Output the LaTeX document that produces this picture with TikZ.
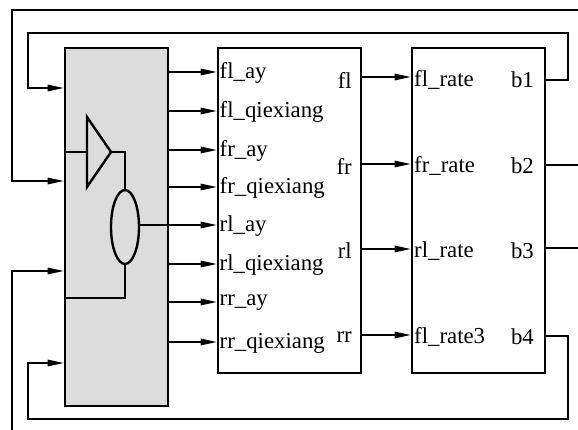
\documentclass[tikz,border=0pt]{standalone}
\usepackage{fontspec}
\setmainfont{Liberation Serif}
\newfontfamily\tnr{Liberation Serif}
\usetikzlibrary{arrows.meta,shapes.geometric}
\begin{document}
\begin{tikzpicture}[x=1pt,y=-1pt,
  blk/.style={draw,line width=2.6pt,rectangle,inner sep=0pt},
  wire/.style={line width=1.3pt},
  arr/.style={wire,-{Triangle[length=16pt,width=6.5pt]}},
  lbl/.style={font=\tnr\fontsize{22.8}{24}\selectfont,inner sep=1pt},
  shp/.style={line width=2.4pt}]
\useasboundingbox (0,0) rectangle (578,430);
% blocks
\node[blk,fill={rgb,255:red,220;green,220;blue,220},minimum width=103pt,minimum height=358pt] (g) at (116.5,227) {};
\node[blk,minimum width=143pt,minimum height=325pt] (m) at (289.5,210.5) {};
\node[blk,minimum width=133pt,minimum height=325pt] (r) at (478.5,210.5) {};
% middle input labels
\foreach \n/\t/\y in {a/fl\_ay/72, b/fl\_qiexiang/111, c/fr\_ay/150, d/fr\_qiexiang/187, e/rl\_ay/225, f/rl\_qiexiang/264, h/rr\_ay/302, i/rr\_qiexiang/342}{
  \node[lbl,anchor=west] (m\n) at (218.5,\y+1) {\t};
}
% middle outputs
\node[lbl,anchor=east] (ofl) at (353,80) {fl};
\node[lbl,anchor=east] (ofr) at (353,166) {fr};
\node[lbl,anchor=east] (orl) at (353,251) {rl};
\node[lbl,anchor=east] (orr) at (353,337) {rr};
% right inputs
\node[lbl,anchor=west] (ifl) at (413,80) {fl\_rate};
\node[lbl,anchor=west] (ifr) at (413,166) {fr\_rate};
\node[lbl,anchor=west] (irl) at (413,251) {rl\_rate};
\node[lbl,anchor=west] (irr) at (413,337) {fl\_rate3};
% right outputs
\node[lbl,anchor=east] (b1) at (535,80) {b1};
\node[lbl,anchor=east] (b2) at (535,166) {b2};
\node[lbl,anchor=east] (b3) at (535,251) {b3};
\node[lbl,anchor=east] (b4) at (535,337) {b4};
% gray outputs
\foreach \n/\y in {a/72, b/111, c/150, d/187, f/264, h/302, i/342}{
  \draw[arr] (g.east |- 0,\y) -- (m.west |- 0,\y);
}
% internal shapes
\coordinate (t1) at (87,117);
\coordinate (t2) at (111,152);
\coordinate (t3) at (87,187);
\draw[shp,line join=miter] (t1) -- (t2) -- (t3) -- cycle;
\node[draw,shp,ellipse,minimum width=28pt,minimum height=74pt,inner sep=0pt] (el) at (125,227) {};
\draw[wire] (g.west |- t2) -- (87,152);
\draw[wire] (t2) -- (el.north |- t2) -- (el.north);
\draw[arr] (el.east |- 0,225) -- (m.west |- 0,225);
\draw[wire] (el.south) -- (125,298) -- (g.west |- 0,298);
% middle to right
\draw[arr] (m.east |- 0,77) -- (r.west |- 0,77);
\draw[arr] (m.east |- 0,164) -- (r.west |- 0,164);
\draw[arr] (m.east |- 0,249) -- (r.west |- 0,249);
\draw[arr] (m.east |- 0,335) -- (r.west |- 0,335);
% feedback loops
\coordinate (topin) at (578,10);
\coordinate (botin) at (12,430);
\coordinate (out2) at (578,165);
\coordinate (out3) at (578,248);
\draw[arr] (r.east |- 0,80) -- (568,80) -- (568,33) -- (28,33) -- (28,88) -- (g.west |- 0,88);
\draw[arr] (r.east |- 0,336) -- (568,336) -- (568,419) -- (28,419) -- (28,363) -- (g.west |- 0,363);
\draw[arr] (topin) -- (12,10) -- (12,181) -- (g.west |- 0,181);
\draw[arr] (botin) -- (12,271) -- (g.west |- 0,271);
\draw[wire] (r.east |- out2) -- (out2);
\draw[wire] (r.east |- out3) -- (out3);
\end{tikzpicture}
\end{document}
